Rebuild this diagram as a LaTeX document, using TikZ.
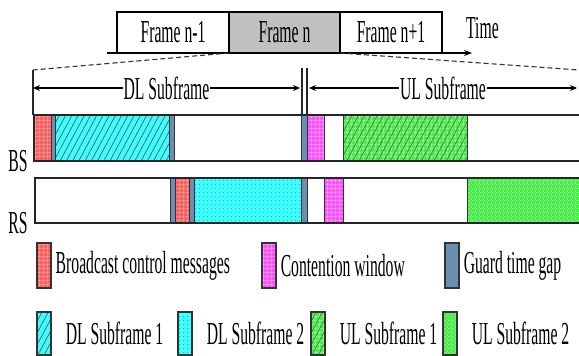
\documentclass[tikz,border=0pt]{standalone}
\usepackage{fontspec}
\usepackage{graphicx}
\setmainfont{Liberation Serif}
\usetikzlibrary{positioning,arrows.meta,patterns.meta}
\definecolor{bred}{RGB}{255,95,95}
\definecolor{bredlt}{RGB}{255,170,170}
\definecolor{bmag}{RGB}{255,80,255}
\definecolor{bmaglt}{RGB}{255,175,255}
\definecolor{bcyan}{RGB}{60,255,255}
\definecolor{bgreen}{RGB}{70,240,70}
\definecolor{bgreenlt}{RGB}{160,255,160}
\definecolor{guardc}{RGB}{108,142,176}
\definecolor{framegray}{RGB}{192,192,192}
\newcommand{\condense}[1]{\scalebox{0.49}[1]{#1}}
\tikzset{
  frm/.style={draw, line width=1.1pt, minimum height=41pt, inner sep=0pt, outer sep=0pt},
  row/.style={draw=black!85, line width=1.1pt},
  span/.style={{Stealth[length=7pt,width=6pt]}-{Stealth[length=7pt,width=6pt]}, line width=1.1pt},
  bcast/.style={draw=black!80, preaction={fill=bred}, pattern={Hatch[angle=0,distance=4pt,line width=0.5pt]}, pattern color=bredlt},
  cwin/.style={draw=black!80, preaction={fill=bmag}, pattern={Hatch[angle=0,distance=4pt,line width=0.5pt]}, pattern color=bmaglt},
  guard/.style={draw=black!80, fill=guardc},
  dlone/.style={draw=black!80, preaction={fill=bcyan}, pattern={Lines[angle=62,distance=5.5pt,line width=0.7pt]}, pattern color=black!65},
  dltwo/.style={draw=black!80, preaction={fill=bcyan}, pattern={Dots[distance=4pt,radius=0.45pt]}, pattern color=black!75},
  ulone/.style={draw=black!80, preaction={fill=bgreen}, preaction={pattern={Hatch[angle=0,distance=4pt,line width=0.5pt]}, pattern color=bgreenlt}, pattern={Lines[angle=62,distance=5.5pt,line width=0.7pt]}, pattern color=black!60},
  ultwo/.style={draw=black!80, preaction={fill=bgreen}, preaction={pattern={Hatch[angle=0,distance=4pt,line width=0.5pt]}, pattern color=bgreenlt}, pattern={Dots[distance=4pt,radius=0.45pt]}, pattern color=black!70},
  key/.style={minimum width=14pt, inner sep=0pt, line width=1.1pt}
}
\begin{document}
\begin{tikzpicture}[x=1pt, y=-1pt, font=\fontsize{32}{32}\selectfont]
  \useasboundingbox (0,0) rectangle (579,356);
  % frames on the time axis
  \node[frm, minimum width=112pt] (fprev) at (173,32.5) {\condense{Frame n-1}};
  \node[frm, minimum width=111pt, fill=framegray, right=0pt of fprev] (fcur) {\condense{Frame n}};
  \node[frm, minimum width=102pt, right=0pt of fcur] (fnext) {\condense{Frame n+1}};
  \draw[line width=1.1pt, -{Stealth[length=8pt,width=6pt]}] ([xshift=-10pt]fprev.south west) -- ([xshift=30pt]fnext.south east);
  \node[anchor=base west, inner sep=0pt] (time) at (466,38) {\condense{Time}};
  % zoom into frame n
  \coordinate (dlL) at (33,70); \coordinate (ulR) at (579,70);
  \draw[dashed, dash pattern=on 5pt off 3pt, black!80, line width=1.1pt] (fcur.south west) -- (dlL);
  \draw[dashed, dash pattern=on 5pt off 3pt, black!80, line width=1.1pt] (fcur.south east) -- (ulR);
  \draw[row] (dlL) -- (33,115);
  \draw[row] (302,68) -- (302,115) (307,68) -- (307,115);
  \coordinate (dla) at (33,88); \coordinate (dlb) at (300,88);
  \coordinate (ula) at (309,88); \coordinate (ulb) at (577,88);
  \draw[span] (dla) -- node[fill=white, inner sep=1pt] (dltxt) {\condense{DL Subframe}} (dlb);
  \draw[span] (ula) -- node[fill=white, inner sep=1pt] (ultxt) {\condense{UL Subframe}} (ulb);
  % BS row
  \foreach \a/\b/\s in {34/51/bcast, 51/55/guard, 55/169/dlone, 169/174/guard, 301/307/guard, 307/324/cwin, 343/467/ulone}
    \draw[style=\s, line width=0.8pt] (\a,115) rectangle (\b,161);
  \draw[row] (579,115) -| (34,161) -- (579,161);
  \node[anchor=base, inner sep=0pt] (bs) at (18,171) {\condense{BS}};
  % RS row
  \foreach \a/\b/\s in {170/175/guard, 175/189/bcast, 189/194/guard, 194/301/dltwo, 301/307/guard, 324/343/cwin, 467/579/ultwo}
    \draw[style=\s, line width=0.8pt] (\a,178) rectangle (\b,223);
  \draw[row] (579,178) -| (35,223) -- (579,223);
  \node[anchor=base, inner sep=0pt] (rs) at (18,233) {\condense{RS}};
  % legend
  \foreach \x/\s/\t [count=\i] in {44/bcast/Broadcast control messages, 269/cwin/Contention window, 452/guard/Guard time gap}
    {\node[key, minimum height=45pt, style=\s] (ka\i) at (\x,265.5) {};
     \node[inner sep=0pt, right=4pt of ka\i] (la\i) {\condense{\t}};}
  \foreach \x/\s/\t [count=\i] in {44/dlone/DL Subframe 1, 185/dltwo/DL Subframe 2, 318/ulone/UL Subframe 1, 450/ultwo/UL Subframe 2}
    {\node[key, minimum height=43pt, style=\s] (kb\i) at (\x,333.5) {};
     \node[inner sep=0pt, right=14pt of kb\i] (lb\i) {\condense{\t}};}
\end{tikzpicture}
\end{document}
